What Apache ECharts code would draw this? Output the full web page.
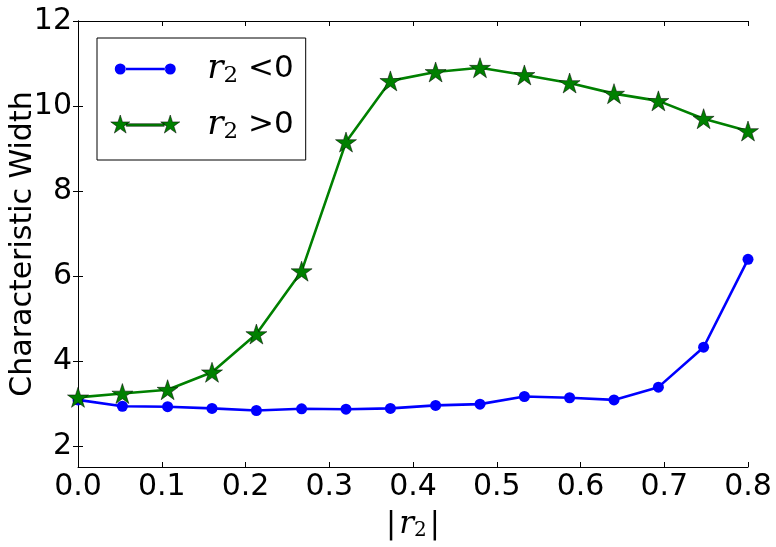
<!DOCTYPE html>
<html><head><meta charset="utf-8">
<script src="https://cdn.jsdelivr.net/npm/echarts@6/dist/echarts.min.js"></script>
<style>html,body{margin:0;padding:0;background:#fff}#c{width:776px;height:547px}</style>
</head><body><div id="c"></div>
<script>
const xValues = [0, 0.053, 0.107, 0.16, 0.213, 0.267, 0.32, 0.373, 0.427, 0.48, 0.533, 0.587, 0.64, 0.693, 0.747, 0.8];
const negValues = [3.08, 2.93, 2.92, 2.88, 2.83, 2.87, 2.86, 2.88, 2.95, 2.98, 3.16, 3.13, 3.08, 3.38, 4.32, 6.39];
const posValues = [3.14, 3.23, 3.32, 3.73, 4.63, 6.11, 9.15, 10.59, 10.80, 10.90, 10.73, 10.54, 10.29, 10.12, 9.70, 9.41];
const yTicks = [2, 4, 6, 8, 10, 12];
const seriesNames = ['r2<0', 'r2>0'];

const STAR = 'path://M50,0L61.2,34.5L97.6,34.5L68.2,55.9L79.4,90.5L50,69.1L20.6,90.5L31.8,55.9L2.4,34.5L38.8,34.5Z';
function circ(cx, cy, r) { return 'M' + (cx - r) + ',' + cy + 'A' + r + ',' + r + ' 0 1,0 ' + (cx + r) + ',' + cy + 'A' + r + ',' + r + ' 0 1,0 ' + (cx - r) + ',' + cy + 'Z'; }
function star(cx, cy) {
  const p = [[0,-10],[2.245,-3.09],[9.51,-3.09],[3.633,1.18],[5.878,8.09],[0,3.82],[-5.878,8.09],[-3.633,1.18],[-9.51,-3.09],[-2.245,-3.09]];
  return 'M' + p.map(q => (cx + q[0]).toFixed(2) + ',' + (cy + q[1]).toFixed(2)).join('L') + 'Z';
}
const frame = 'M0,0L0,0M70,20L70,20';
const blueIcon = 'path://' + frame + circ(10, 10, 5.5) + circ(60, 10, 5.5) + 'M15,8.7L55,8.7L55,11.3L15,11.3Z';
const greenIcon = 'path://' + frame + star(10, 10) + star(60, 10) + 'M16,8.7L54,8.7L54,11.3L16,11.3Z';

const chart = echarts.init(document.getElementById('c'));
const axisLine = { show: true, lineStyle: { color: '#000', width: 1 } };
const richR = {
  r: { fontFamily: 'DejaVu Serif', fontStyle: 'italic', fontSize: 34, color: '#000' },
  s: { fontFamily: 'DejaVu Serif', fontSize: 23, color: '#000', padding: [14, 0, 0, 0] },
  t: { fontFamily: 'DejaVu Sans', fontSize: 31, color: '#000' }
};
const richX = {
  r: { fontFamily: 'DejaVu Serif', fontStyle: 'italic', fontSize: 31, color: '#000' },
  s: { fontFamily: 'DejaVu Serif', fontSize: 20, color: '#000', padding: [12, 0, 0, 0] },
  b: { fontFamily: 'DejaVu Sans', fontSize: 30, color: '#000', padding: [0, 3, 0, 3] }
};
chart.setOption({
  animation: false,
  backgroundColor: '#fff',
  grid: { left: 78, right: 28, top: 21, bottom: 80, containLabel: false, outerBoundsMode: 'none' },
  xAxis: [{
    type: 'value', min: 0, max: 0.8, interval: 0.1, position: 'bottom',
    axisLine: axisLine, splitLine: { show: false },
    axisTick: { inside: true, length: 5, lineStyle: { color: '#000' } },
    axisLabel: { fontFamily: 'DejaVu Sans', fontSize: 30, color: '#000', margin: 5, formatter: v => v.toFixed(1) },
    name: '{b||}{r|r}{s|2}{b||}', nameLocation: 'middle', nameGap: 42, nameMoveOverlap: false,
    nameTextStyle: { rich: richX, verticalAlign: 'top' }
  }, {
    type: 'value', min: 0, max: 0.8, interval: 0.1, position: 'top',
    axisLine: axisLine, splitLine: { show: false },
    axisTick: { inside: true, length: 5, lineStyle: { color: '#000' } },
    axisLabel: { show: false }
  }],
  yAxis: [{
    type: 'value', min: 1.5, max: 12, position: 'left',
    axisLine: axisLine, splitLine: { show: false },
    axisTick: { inside: true, length: 5, customValues: yTicks, lineStyle: { color: '#000' } },
    axisLabel: { fontFamily: 'DejaVu Sans', fontSize: 30, color: '#000', margin: 6, customValues: yTicks },
    name: 'Characteristic Width', nameLocation: 'middle', nameGap: 40, nameMoveOverlap: false,
    nameTextStyle: { fontFamily: 'DejaVu Sans', fontSize: 30, color: '#000' }
  }, {
    type: 'value', min: 1.5, max: 12, position: 'right',
    axisLine: axisLine, splitLine: { show: false },
    axisTick: { inside: true, length: 5, customValues: yTicks, lineStyle: { color: '#000' } },
    axisLabel: { show: false }
  }],
  legend: {
    left: 97, top: 38, orient: 'vertical',
    padding: [11, 12, 15, 13],
    itemWidth: 70, itemHeight: 20, itemGap: 16,
    borderColor: '#000', borderWidth: 1, borderRadius: 0,
    symbolKeepAspect: false,
    data: [
      { name: seriesNames[0], icon: blueIcon, itemStyle: { color: '#0000ff', borderWidth: 0 } },
      { name: seriesNames[1], icon: greenIcon, itemStyle: { color: '#008000', borderColor: '#000', borderWidth: 0.5 } }
    ],
    formatter: n => '{r|r}{s|2}{t| ' + n.slice(2) + '}',
    textStyle: { fontFamily: 'DejaVu Sans', fontSize: 30, color: '#000', lineHeight: 40, padding: [0, 0, 0, 22], rich: richR }
  },
  series: [{
    name: seriesNames[0], type: 'line', xAxisIndex: 0, yAxisIndex: 0,
    data: xValues.map((x, i) => [x, negValues[i]]),
    symbol: 'circle', symbolSize: 11,
    lineStyle: { color: '#0000ff', width: 2.6 },
    itemStyle: { color: '#0000ff', borderWidth: 0 }
  }, {
    name: seriesNames[1], type: 'line', xAxisIndex: 0, yAxisIndex: 0,
    data: xValues.map((x, i) => [x, posValues[i]]),
    symbol: STAR, symbolSize: [21, 20],
    lineStyle: { color: '#008000', width: 2.6 },
    itemStyle: { color: '#008000', borderColor: '#000', borderWidth: 0.5 }
  }]
});
</script></body></html>
